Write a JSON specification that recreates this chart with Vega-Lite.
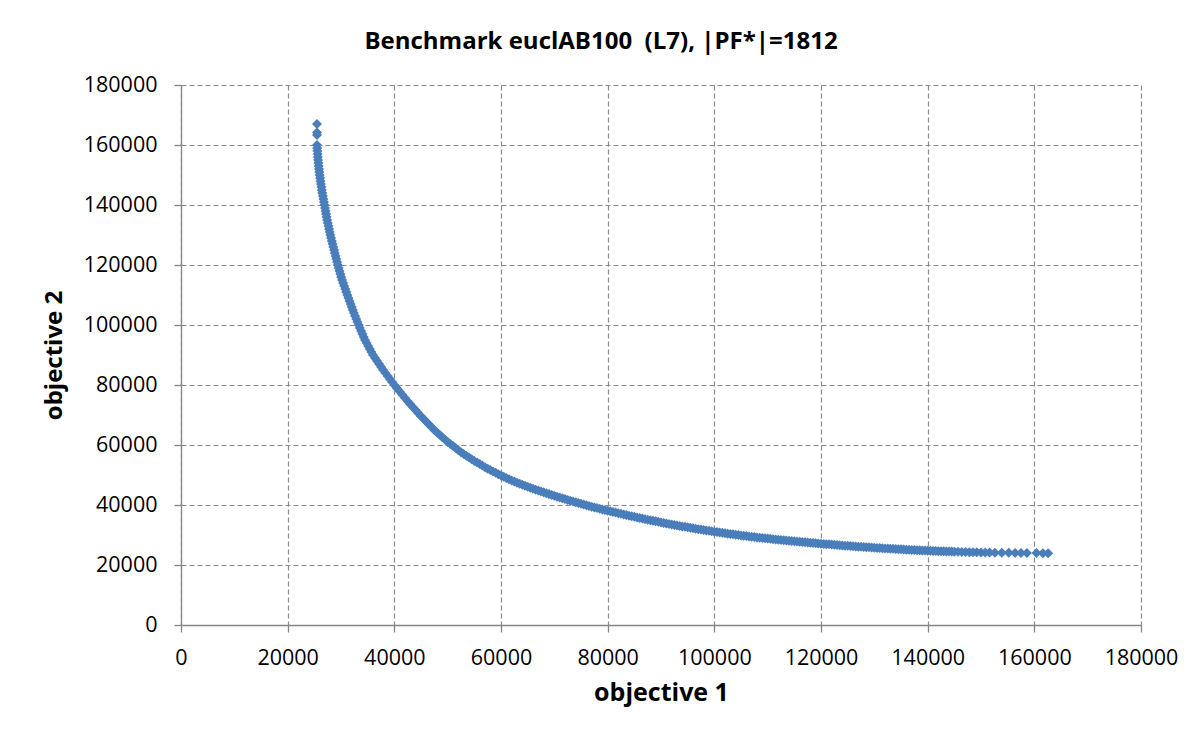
{
  "$schema": "https://vega.github.io/schema/vega-lite/v6.json",
  "width": 960,
  "height": 540,
  "autosize": {"type": "none"},
  "padding": {"left": 181, "top": 85, "right": 62, "bottom": 110},
  "background": "white",
  "title": {
    "text": "Benchmark euclAB100\u00a0 (L7), |PF*|=1812",
    "font": "Open Sans",
    "fontSize": 24,
    "fontWeight": "bold",
    "color": "#000000",
    "anchor": "middle",
    "dx": -60,
    "offset": 20
  },
  "data": {
    "values": [
      {"o1": 25500, "o2": 167000}, {"o1": 25500, "o2": 164200}, {"o1": 25500, "o2": 163300},
      {"o1": 25500, "o2": 160000}, {"o1": 25540, "o2": 159000}, {"o1": 25580, "o2": 158000}, {"o1": 25620, "o2": 157000}, {"o1": 25660, "o2": 156000},
      {"o1": 25700, "o2": 155000}, {"o1": 25760, "o2": 154000}, {"o1": 25820, "o2": 153000}, {"o1": 25880, "o2": 152000}, {"o1": 25940, "o2": 151000},
      {"o1": 26000, "o2": 150000}, {"o1": 26080, "o2": 149000}, {"o1": 26160, "o2": 148000}, {"o1": 26240, "o2": 147000}, {"o1": 26320, "o2": 146000},
      {"o1": 26400, "o2": 145000}, {"o1": 26500, "o2": 144000}, {"o1": 26600, "o2": 143000}, {"o1": 26700, "o2": 142000}, {"o1": 26800, "o2": 141000},
      {"o1": 26900, "o2": 140000}, {"o1": 27000, "o2": 139000}, {"o1": 27100, "o2": 138000}, {"o1": 27200, "o2": 137000}, {"o1": 27300, "o2": 136000},
      {"o1": 27400, "o2": 135000}, {"o1": 27520, "o2": 134000}, {"o1": 27640, "o2": 133000}, {"o1": 27760, "o2": 132000}, {"o1": 27880, "o2": 131000},
      {"o1": 28000, "o2": 130000}, {"o1": 28140, "o2": 129000}, {"o1": 28280, "o2": 128000}, {"o1": 28420, "o2": 127000}, {"o1": 28560, "o2": 126000},
      {"o1": 28700, "o2": 125000}, {"o1": 28840, "o2": 124000}, {"o1": 28980, "o2": 123000}, {"o1": 29120, "o2": 122000}, {"o1": 29260, "o2": 121000},
      {"o1": 29400, "o2": 120000}, {"o1": 29560, "o2": 119000}, {"o1": 29720, "o2": 118000}, {"o1": 29880, "o2": 117000}, {"o1": 30040, "o2": 116000},
      {"o1": 30200, "o2": 115000}, {"o1": 30400, "o2": 114000}, {"o1": 30600, "o2": 113000}, {"o1": 30800, "o2": 112000}, {"o1": 31000, "o2": 111000},
      {"o1": 31200, "o2": 110000}, {"o1": 31400, "o2": 109000}, {"o1": 31600, "o2": 108000}, {"o1": 31800, "o2": 107000}, {"o1": 32000, "o2": 106000},
      {"o1": 32200, "o2": 105000}, {"o1": 32420, "o2": 104000}, {"o1": 32640, "o2": 103000}, {"o1": 32860, "o2": 102000}, {"o1": 33080, "o2": 101000},
      {"o1": 33300, "o2": 100000}, {"o1": 33540, "o2": 99000}, {"o1": 33780, "o2": 98000}, {"o1": 34020, "o2": 97000}, {"o1": 34260, "o2": 96000},
      {"o1": 34500, "o2": 95000}, {"o1": 34800, "o2": 94000}, {"o1": 35100, "o2": 93000}, {"o1": 35400, "o2": 92000}, {"o1": 35700, "o2": 91000},
      {"o1": 36000, "o2": 90000}, {"o1": 36380, "o2": 89000}, {"o1": 36760, "o2": 88000}, {"o1": 37140, "o2": 87000}, {"o1": 37520, "o2": 86000},
      {"o1": 37900, "o2": 85000}, {"o1": 38320, "o2": 84000}, {"o1": 38740, "o2": 83000}, {"o1": 39160, "o2": 82000}, {"o1": 39580, "o2": 81000},
      {"o1": 40000, "o2": 80000}, {"o1": 40500, "o2": 78920}, {"o1": 41000, "o2": 77840}, {"o1": 41500, "o2": 76760}, {"o1": 42000, "o2": 75680},
      {"o1": 42500, "o2": 74600}, {"o1": 43000, "o2": 73600}, {"o1": 43500, "o2": 72600}, {"o1": 44000, "o2": 71600}, {"o1": 44500, "o2": 70600},
      {"o1": 45000, "o2": 69600}, {"o1": 45500, "o2": 68680}, {"o1": 46000, "o2": 67760}, {"o1": 46500, "o2": 66840}, {"o1": 47000, "o2": 65920},
      {"o1": 47500, "o2": 65000}, {"o1": 48000, "o2": 64200}, {"o1": 48500, "o2": 63400}, {"o1": 49000, "o2": 62600}, {"o1": 49500, "o2": 61800},
      {"o1": 50000, "o2": 61000}, {"o1": 50500, "o2": 60320}, {"o1": 51000, "o2": 59640}, {"o1": 51500, "o2": 58960}, {"o1": 52000, "o2": 58280},
      {"o1": 52500, "o2": 57600}, {"o1": 53000, "o2": 57020}, {"o1": 53500, "o2": 56440}, {"o1": 54000, "o2": 55860}, {"o1": 54500, "o2": 55280},
      {"o1": 55000, "o2": 54700}, {"o1": 55500, "o2": 54180}, {"o1": 56000, "o2": 53660}, {"o1": 56500, "o2": 53140}, {"o1": 57000, "o2": 52620},
      {"o1": 57500, "o2": 52100}, {"o1": 58000, "o2": 51640}, {"o1": 58500, "o2": 51180}, {"o1": 59000, "o2": 50720}, {"o1": 59500, "o2": 50260},
      {"o1": 60000, "o2": 49800}, {"o1": 60500, "o2": 49400}, {"o1": 61000, "o2": 49000}, {"o1": 61500, "o2": 48600}, {"o1": 62000, "o2": 48200},
      {"o1": 62500, "o2": 47800}, {"o1": 63000, "o2": 47450}, {"o1": 63500, "o2": 47100}, {"o1": 64000, "o2": 46750}, {"o1": 64500, "o2": 46400},
      {"o1": 65000, "o2": 46050}, {"o1": 65500, "o2": 45740}, {"o1": 66000, "o2": 45430}, {"o1": 66500, "o2": 45120}, {"o1": 67000, "o2": 44810},
      {"o1": 67500, "o2": 44500}, {"o1": 68000, "o2": 44210}, {"o1": 68500, "o2": 43920}, {"o1": 69000, "o2": 43630}, {"o1": 69500, "o2": 43340},
      {"o1": 70000, "o2": 43050}, {"o1": 70500, "o2": 42780}, {"o1": 71000, "o2": 42510}, {"o1": 71500, "o2": 42240}, {"o1": 72000, "o2": 41970},
      {"o1": 72500, "o2": 41700}, {"o1": 73000, "o2": 41440}, {"o1": 73500, "o2": 41180}, {"o1": 74000, "o2": 40920}, {"o1": 74500, "o2": 40660},
      {"o1": 75000, "o2": 40400}, {"o1": 75500, "o2": 40160}, {"o1": 76000, "o2": 39920}, {"o1": 76500, "o2": 39680}, {"o1": 77000, "o2": 39440},
      {"o1": 77500, "o2": 39200}, {"o1": 78000, "o2": 38980}, {"o1": 78500, "o2": 38760}, {"o1": 79000, "o2": 38540}, {"o1": 79500, "o2": 38320},
      {"o1": 80000, "o2": 38100}, {"o1": 80500, "o2": 37890}, {"o1": 81000, "o2": 37680}, {"o1": 81500, "o2": 37470}, {"o1": 82000, "o2": 37260},
      {"o1": 82500, "o2": 37050}, {"o1": 83000, "o2": 36850}, {"o1": 83500, "o2": 36650}, {"o1": 84000, "o2": 36450}, {"o1": 84500, "o2": 36250},
      {"o1": 85000, "o2": 36050}, {"o1": 85500, "o2": 35860}, {"o1": 86000, "o2": 35670}, {"o1": 86500, "o2": 35480}, {"o1": 87000, "o2": 35290},
      {"o1": 87500, "o2": 35100}, {"o1": 88000, "o2": 34920}, {"o1": 88500, "o2": 34740}, {"o1": 89000, "o2": 34560}, {"o1": 89500, "o2": 34380},
      {"o1": 90000, "o2": 34200}, {"o1": 90500, "o2": 34030}, {"o1": 91000, "o2": 33860}, {"o1": 91500, "o2": 33690}, {"o1": 92000, "o2": 33520},
      {"o1": 92500, "o2": 33350}, {"o1": 93000, "o2": 33190}, {"o1": 93500, "o2": 33030}, {"o1": 94000, "o2": 32870}, {"o1": 94500, "o2": 32710},
      {"o1": 95000, "o2": 32550}, {"o1": 95500, "o2": 32400}, {"o1": 96000, "o2": 32250}, {"o1": 96500, "o2": 32100}, {"o1": 97000, "o2": 31950},
      {"o1": 97500, "o2": 31800}, {"o1": 98000, "o2": 31660}, {"o1": 98500, "o2": 31520}, {"o1": 99000, "o2": 31380}, {"o1": 99500, "o2": 31240},
      {"o1": 100000, "o2": 31100}, {"o1": 100500, "o2": 30970}, {"o1": 101000, "o2": 30840}, {"o1": 101500, "o2": 30710}, {"o1": 102000, "o2": 30580},
      {"o1": 102500, "o2": 30450}, {"o1": 103000, "o2": 30330}, {"o1": 103500, "o2": 30210}, {"o1": 104000, "o2": 30090}, {"o1": 104500, "o2": 29970},
      {"o1": 105000, "o2": 29850}, {"o1": 105500, "o2": 29740}, {"o1": 106000, "o2": 29630}, {"o1": 106500, "o2": 29520}, {"o1": 107000, "o2": 29410},
      {"o1": 107500, "o2": 29300}, {"o1": 108000, "o2": 29200}, {"o1": 108500, "o2": 29100}, {"o1": 109000, "o2": 29000}, {"o1": 109500, "o2": 28900},
      {"o1": 110000, "o2": 28800}, {"o1": 110500, "o2": 28710}, {"o1": 111000, "o2": 28620}, {"o1": 111500, "o2": 28530}, {"o1": 112000, "o2": 28440},
      {"o1": 112500, "o2": 28350}, {"o1": 113000, "o2": 28260}, {"o1": 113500, "o2": 28170}, {"o1": 114000, "o2": 28080}, {"o1": 114500, "o2": 27990},
      {"o1": 115000, "o2": 27900}, {"o1": 115500, "o2": 27820}, {"o1": 116000, "o2": 27730}, {"o1": 116500, "o2": 27650}, {"o1": 117000, "o2": 27560},
      {"o1": 117500, "o2": 27480}, {"o1": 118000, "o2": 27400}, {"o1": 118500, "o2": 27330}, {"o1": 119000, "o2": 27250}, {"o1": 119500, "o2": 27180},
      {"o1": 120000, "o2": 27100}, {"o1": 120500, "o2": 27030}, {"o1": 121000, "o2": 26950}, {"o1": 121500, "o2": 26880}, {"o1": 122000, "o2": 26800},
      {"o1": 122500, "o2": 26730}, {"o1": 123000, "o2": 26660}, {"o1": 123500, "o2": 26590}, {"o1": 124000, "o2": 26520}, {"o1": 124500, "o2": 26450},
      {"o1": 125000, "o2": 26380}, {"o1": 125500, "o2": 26320}, {"o1": 126000, "o2": 26250}, {"o1": 126500, "o2": 26190}, {"o1": 127000, "o2": 26120},
      {"o1": 127500, "o2": 26060}, {"o1": 128000, "o2": 26000}, {"o1": 128500, "o2": 25940}, {"o1": 129000, "o2": 25880}, {"o1": 129500, "o2": 25820},
      {"o1": 130000, "o2": 25760}, {"o1": 130500, "o2": 25700}, {"o1": 131000, "o2": 25650}, {"o1": 131500, "o2": 25590}, {"o1": 132000, "o2": 25540},
      {"o1": 132500, "o2": 25480}, {"o1": 133000, "o2": 25430}, {"o1": 133500, "o2": 25380}, {"o1": 134000, "o2": 25320}, {"o1": 134500, "o2": 25270},
      {"o1": 135000, "o2": 25220}, {"o1": 135500, "o2": 25170}, {"o1": 136000, "o2": 25120}, {"o1": 136500, "o2": 25080}, {"o1": 137000, "o2": 25030},
      {"o1": 137500, "o2": 24980}, {"o1": 138000, "o2": 24940}, {"o1": 138500, "o2": 24890}, {"o1": 139000, "o2": 24850}, {"o1": 139500, "o2": 24800},
      {"o1": 140000, "o2": 24760}, {"o1": 140500, "o2": 24720}, {"o1": 141000, "o2": 24690}, {"o1": 141500, "o2": 24650}, {"o1": 142000, "o2": 24620},
      {"o1": 142500, "o2": 24580}, {"o1": 143000, "o2": 24550}, {"o1": 143500, "o2": 24520}, {"o1": 144000, "o2": 24490}, {"o1": 144500, "o2": 24460},
      {"o1": 145000, "o2": 24430}, {"o1": 145700, "o2": 24400}, {"o1": 146400, "o2": 24370}, {"o1": 147100, "o2": 24340}, {"o1": 147800, "o2": 24290},
      {"o1": 148500, "o2": 24260}, {"o1": 149200, "o2": 24230}, {"o1": 150000, "o2": 24200}, {"o1": 150800, "o2": 24170}, {"o1": 151600, "o2": 24140},
      {"o1": 152600, "o2": 24110}, {"o1": 153900, "o2": 24080}, {"o1": 155200, "o2": 24060}, {"o1": 156400, "o2": 24030}, {"o1": 157500, "o2": 24010},
      {"o1": 158600, "o2": 24000}, {"o1": 160400, "o2": 23970}, {"o1": 161600, "o2": 23950}, {"o1": 162600, "o2": 23940}
    ]
  },
  "mark": {
    "type": "point",
    "shape": "diamond",
    "filled": true,
    "size": 100,
    "color": "#4A7EBB",
    "opacity": 1
  },
  "encoding": {
    "x": {
      "field": "o1",
      "type": "quantitative",
      "scale": {"domain": [0, 180000], "nice": false, "zero": true},
      "axis": {
        "title": "objective 1",
        "values": [0, 20000, 40000, 60000, 80000, 100000, 120000, 140000, 160000, 180000],
        "format": "d",
        "labelPadding": 15,
        "titlePadding": 12,
        "titleFontSize": 25
      }
    },
    "y": {
      "field": "o2",
      "type": "quantitative",
      "scale": {"domain": [0, 180000], "nice": false, "zero": true},
      "axis": {
        "title": "objective 2",
        "values": [0, 20000, 40000, 60000, 80000, 100000, 120000, 140000, 160000, 180000],
        "format": "d",
        "labelPadding": 17,
        "titlePadding": 17,
        "titleFontSize": 24
      }
    }
  },
  "config": {
    "view": {"stroke": null},
    "font": "Open Sans",
    "axis": {
      "labelFont": "Open Sans",
      "labelFontSize": 21.5,
      "labelColor": "#000000",
      "labelFlush": false,
      "labelOverlap": false,
      "labelBound": false,
      "titleFont": "Open Sans",
      "titleFontWeight": "bold",
      "titleColor": "#000000",
      "domainColor": "#868686",
      "domainWidth": 1.3,
      "tickColor": "#868686",
      "tickWidth": 1.3,
      "tickSize": 7,
      "grid": true,
      "gridColor": "#8a8a8a",
      "gridDash": [5, 3],
      "gridWidth": 1.2,
      "gridOpacity": 1
    }
  }
}
